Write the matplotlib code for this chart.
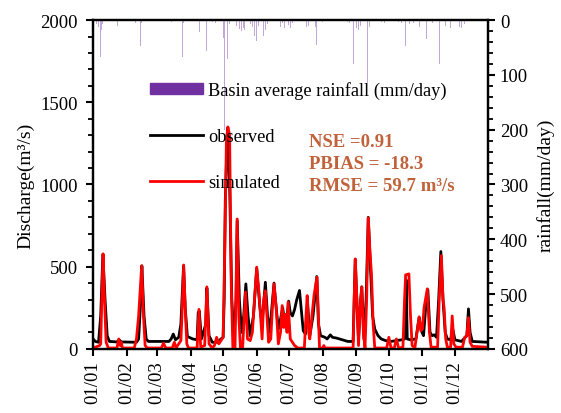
import numpy as np
import matplotlib
matplotlib.use("Agg")
import matplotlib.pyplot as plt
import matplotlib.dates as mdates
from matplotlib.patches import Patch
from matplotlib.lines import Line2D
from matplotlib.ticker import MultipleLocator

plt.rcParams['font.family'] = ['Liberation Serif', 'DejaVu Serif']

# daily hydrograph, given as breakpoints (day of year, discharge m3/s)
obs_day = [0, 2, 5, 7, 9, 11, 13, 15, 22, 24, 26, 40, 42, 44, 45, 47, 49, 51,
           70, 72, 74, 76, 79, 81, 83.5, 85, 87, 92, 96, 97, 98, 100, 104, 105,
           107, 110, 115, 118, 120, 121, 122, 124, 126, 128, 130, 132, 133,
           135, 137, 139, 141, 143, 145, 148, 151, 154, 156, 159, 161, 163,
           165, 167, 169, 171, 173, 175, 177, 179, 180.5, 182, 184, 186, 188,
           190.5, 192, 194, 196, 198, 200, 203, 206.5, 208, 210, 214, 216, 219,
           221, 225, 230, 235, 240, 241, 242, 244, 245, 247, 248, 250, 252,
           254, 256, 258, 260, 263, 266, 270, 275, 280, 285, 287.5, 289, 290,
           293, 298, 300, 301, 303, 305, 307, 309, 311, 313, 315, 317, 319,
           321, 323, 325, 327, 330, 332, 334, 340, 345, 346.5, 348, 350, 364]
obs_q = [60, 45, 40, 200, 575, 300, 80, 45, 42, 55, 42, 40, 60, 300, 505, 200, 60, 45,
         45, 60, 90, 55, 70, 150, 505, 250, 75, 60, 55, 220, 230, 60, 150, 370,
         80, 40, 40, 60, 70, 300, 900, 1345, 1000, 300, 60, 300, 780,
         300, 100, 200, 395, 200, 80, 200, 490, 250, 150, 405, 200, 100,
         250, 400, 250, 120, 180, 250, 150, 200, 290, 220, 200, 240, 300,
         355, 250, 110, 90, 280, 80, 200, 440, 150, 80, 70, 60, 85,
         70, 65, 55, 45, 45, 300, 545, 200, 60, 300, 377, 60, 300,
         800, 500, 200, 120, 80, 60, 50, 45, 50, 55, 60, 420, 60,
         55, 60, 150, 190, 110, 80, 250, 360, 100, 80, 85, 70, 300,
         592, 300, 100, 60, 55, 120, 55, 45, 80, 243, 100, 45, 40]

sim_day = [0, 6, 7, 8, 9.2, 10.5, 12, 14, 22, 23.7, 25, 26, 27, 38, 40, 42, 44.8,
           46.5, 48, 50, 63, 65, 67, 73, 75, 76.5, 81, 82, 83.6, 85, 86.5, 88,
           96, 97.7, 99.3, 103, 105, 107, 110, 112, 114, 116, 118, 120, 121.5,
           123, 124.4, 126, 127.5, 129, 131, 132, 133, 134.5, 136, 138, 140.7,
           142.5, 145, 147, 149, 151, 153, 156, 157.5, 159, 161, 162, 164,
           165.5, 167, 169, 171, 173, 174.5, 176, 177.5, 179, 180, 182, 184,
           186, 189, 195, 196.5, 197.6, 199, 200, 202, 204, 206.7, 208, 209,
           212, 213, 214, 240, 241, 242, 243.5, 245, 246.5, 248, 249.5, 251,
           252.5, 254, 255.5, 257, 258.5, 260, 271, 273, 275, 278, 280, 282,
           286, 287.5, 288.5, 291.5, 293, 294.5, 297, 299, 301, 302.5, 304,
           305.5, 308.5, 310.5, 312, 318, 319.5, 321.5, 323, 324, 325.5, 327,
           330, 331.5, 333, 335, 341, 343, 345, 346.5, 348, 350, 364]
sim_q = [5, 20, 30, 300, 578, 300, 40, 5, 5, 60, 20, 40, 5, 5, 60, 200, 505,
         200, 20, 5, 5, 35, 5, 5, 40, 5, 50, 200, 510, 250, 30, 5,
         5, 240, 10, 20, 377, 30, 5, 20, 70, 30, 50, 70, 600,
         1250, 1350, 1300, 400, 5, 5, 400, 790, 200, 5, 5, 346,
         60, 50, 100, 300, 497, 350, 60, 300, 353, 150, 40, 60,
         250, 395, 250, 30, 100, 263, 130, 210, 100, 285, 60, 40,
         20, 5, 5, 200, 324, 100, 60, 200, 330, 436, 200, 5,
         5, 20, 5, 5, 300, 547, 300, 20, 250, 377, 100, 5,
         300, 797, 600, 450, 150, 5, 5, 70, 5, 5, 60, 5,
         10, 300, 450, 456, 200, 20, 5, 100, 195, 110, 120,
         250, 365, 100, 10, 10, 300, 567, 300, 250, 60, 10,
         10, 200, 30, 10, 10, 70, 80, 190, 40, 15, 10]

# basin average rainfall (day of year, mm/day)
rain_day = [3, 5, 6.8, 7.5, 9, 22.7, 39, 43.6, 45, 64.5, 72, 82.6, 83.5, 98,
            104.4, 110, 113, 120.4, 121.6, 124, 126, 132, 135, 137, 139, 140,
            145, 147, 149, 151, 153, 157, 159, 161, 166, 172.7, 175, 177, 180,
            182, 184, 197, 199, 203, 205, 206, 212, 226, 235, 237, 240.5, 243,
            245, 247, 253, 255, 266, 269, 282, 285, 287, 288, 292, 296, 301,
            308, 313, 320, 325, 330, 338, 340, 343]
rain_mm = [8, 12, 67, 18, 7, 10, 5, 48, 6, 4, 3, 68, 5, 22,
           56, 4, 6, 33, 200, 71, 8, 10, 16, 20, 14, 18,
           8, 12, 29, 38, 10, 29, 18, 8, 41, 12, 6, 15, 9,
           14, 6, 13, 10, 8, 12, 45, 4, 4, 4, 5, 80, 15,
           18, 10, 114, 12, 4, 6, 4, 5, 53, 48, 8, 6, 12,
           35, 6, 80, 10, 15, 12, 14, 8]

base = mdates.date2num(np.datetime64('2015-01-01'))
x_obs = base + np.array(obs_day)
x_sim = base + np.array(sim_day)
x_rain = base + np.array(rain_day)

fig = plt.figure(figsize=(5.61, 4.14), dpi=100)
ax = fig.add_axes([0.166, 0.155, 0.704, 0.794])

ax.plot(x_obs, obs_q, color='black', lw=2, zorder=2)
ax.plot(x_sim, sim_q, color='red', lw=2, zorder=3)
ax.set_xlim(base, base + 364.6)
ax.set_ylim(0, 2000)
ax.yaxis.set_major_locator(MultipleLocator(500))
ax.yaxis.set_minor_locator(MultipleLocator(100))
ax.xaxis.set_major_locator(mdates.MonthLocator())
ax.xaxis.set_major_formatter(mdates.DateFormatter('%d/%m'))
ax.tick_params(axis='x', rotation=90)
ax.tick_params(which='major', direction='out', length=5, width=1.5, labelsize=13.5)
ax.tick_params(axis='y', pad=6)
ax.tick_params(which='minor', direction='out', length=3.5, width=1.3)
ax.set_ylabel('Discharge(m³/s)', fontsize=14, labelpad=4)

ax2 = ax.twinx()
ax2.bar(x_rain, rain_mm, width=0.8, color='#7030A0', alpha=0.42, linewidth=0)
ax2.set_ylim(600, 0)
ax2.yaxis.set_major_locator(MultipleLocator(100))
ax2.yaxis.set_minor_locator(MultipleLocator(20))
ax2.tick_params(which='major', direction='out', length=5, width=1.5, labelsize=13.5)
ax2.tick_params(which='minor', direction='out', length=3.5, width=1.3)
ax2.set_ylabel('rainfall(mm/day)', fontsize=14, labelpad=6)

for a in (ax, ax2):
    for s in a.spines.values():
        s.set_linewidth(1.6)

handles = [Patch(color='#7030A0'),
           Line2D([], [], color='black', lw=2),
           Line2D([], [], color='red', lw=2)]
labels = ['Basin average rainfall (mm/day)', 'observed', 'simulated']
ax2.legend(handles, labels, loc='upper left', bbox_to_anchor=(0.103, 0.865),
           frameon=False, fontsize=13.2, labelspacing=1.58, handlelength=2.85,
           handleheight=0.5, handletextpad=0.3)

stats = ['NSE =0.91', 'PBIAS = -18.3', 'RMSE = 59.7 m³/s']
for i, s in enumerate(stats):
    ax2.text(0.547, 0.632 - i * 0.067, s, transform=ax.transAxes, fontsize=13.5,
             fontweight='bold', color='#C0623A', va='center', ha='left')

fig.savefig('out.png', dpi=100)
